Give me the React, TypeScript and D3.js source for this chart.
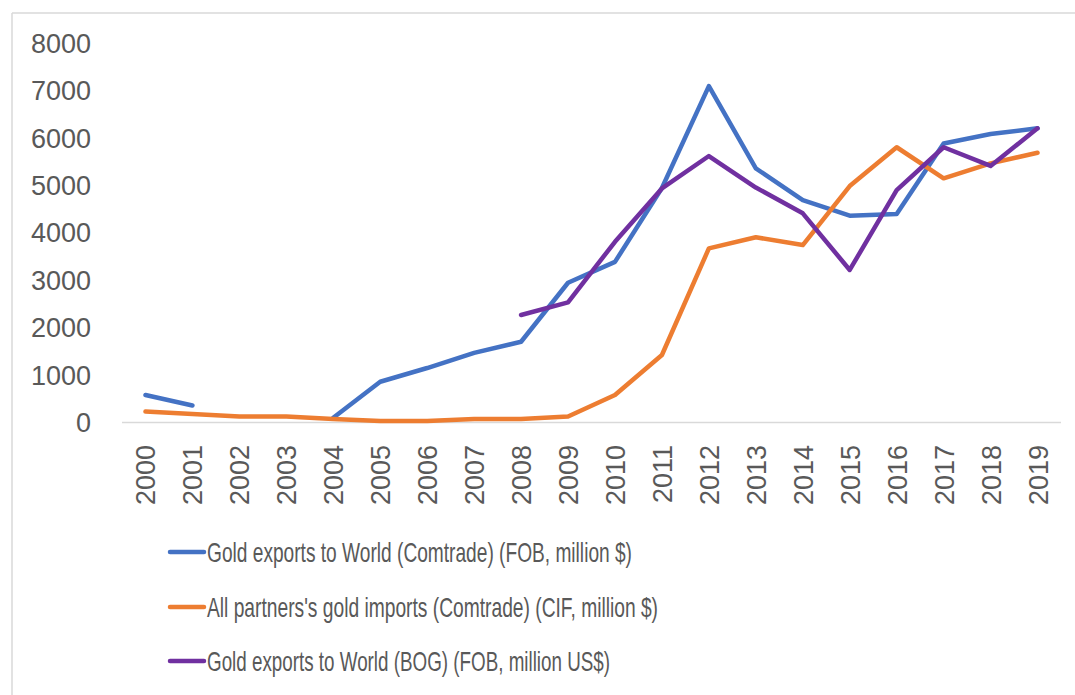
import React, { useEffect, useRef } from "react";
import * as d3 from "d3";

const years = ["2000","2001","2002","2003","2004","2005","2006","2007","2008","2009","2010","2011","2012","2013","2014","2015","2016","2017","2018","2019"];
const comtradeExports: (number | null)[] = [580, 360, null, null, 100, 860, 1150, 1470, 1705, 2950, 3390, 4950, 7100, 5365, 4695, 4365, 4400, 5890, 6090, 6210];
const partnerImports: (number | null)[] = [230, 180, 125, 125, 75, 30, 30, 75, 75, 125, 580, 1425, 3675, 3910, 3745, 4990, 5810, 5155, 5470, 5695];
const bogExports: (number | null)[] = [null, null, null, null, null, null, null, null, 2270, 2535, 3815, 4940, 5625, 4960, 4415, 3220, 4905, 5810, 5415, 6210];
const yTicks = [0, 1000, 2000, 3000, 4000, 5000, 6000, 7000, 8000];
const seriesNames = [
  "Gold exports to World (Comtrade) (FOB, million $)",
  "All partners's gold imports (Comtrade) (CIF, million $)",
  "Gold exports to World (BOG) (FOB, million US$)",
];
const seriesColors = ["#4472C4", "#ED7D31", "#7030A0"];

export default function App() {
  const ref = useRef<SVGSVGElement>(null);
  useEffect(() => {
    const svg = d3.select(ref.current);
    svg.selectAll("*").remove();
    const W = 1075, H = 695;
    const font = "'Liberation Sans', Arial, sans-serif";
    const textColor = "#595959";

    // chart frame (top and left visible)
    svg.append("line").attr("x1", 12).attr("x2", W).attr("y1", 13).attr("y2", 13).attr("stroke", "#d9d9d9").attr("stroke-width", 1.5);
    svg.append("line").attr("x1", 12).attr("x2", 12).attr("y1", 13).attr("y2", H).attr("stroke", "#d9d9d9").attr("stroke-width", 1.5);

    const x = d3.scaleBand<string>().domain(years).range([122, 1061]);
    const y = d3.scaleLinear().domain([0, 8000]).range([422.5, 43.5]);

    // y tick labels
    svg.append("g").selectAll("text").data(yTicks).join("text")
      .attr("x", 91).attr("y", (d) => y(d)).attr("dy", "0.35em")
      .attr("text-anchor", "end").attr("font-family", font).attr("font-size", 27)
      .attr("fill", textColor).text((d) => String(d));

    // x axis line
    svg.append("line").attr("x1", 122).attr("x2", 1061).attr("y1", y(0)).attr("y2", y(0))
      .attr("stroke", "#d9d9d9").attr("stroke-width", 1.5);

    // x tick labels rotated
    svg.append("g").selectAll("text").data(years).join("text")
      .attr("transform", (d) => `translate(${(x(d) as number) + x.bandwidth() / 2 + 10},445) rotate(-90)`)
      .attr("text-anchor", "end").attr("font-family", font).attr("font-size", 27)
      .attr("fill", textColor).text((d) => d);

    const allSeries = [comtradeExports, partnerImports, bogExports];
    const line = d3.line<number | null>()
      .defined((d) => d !== null)
      .x((_, i) => (x(years[i]) as number) + x.bandwidth() / 2)
      .y((d) => y(d as number));

    allSeries.forEach((s, k) => {
      svg.append("path").datum(s).attr("d", line as any).attr("fill", "none")
        .attr("stroke", seriesColors[k]).attr("stroke-width", 4.5)
        .attr("stroke-linejoin", "round").attr("stroke-linecap", "round");
    });

    // legend
    const legY = [552, 607, 661];
    const legW = [425, 451, 403];
    seriesNames.forEach((name, k) => {
      svg.append("line").attr("x1", 170).attr("x2", 204).attr("y1", legY[k]).attr("y2", legY[k])
        .attr("stroke", seriesColors[k]).attr("stroke-width", 4.5).attr("stroke-linecap", "round");
      svg.append("text").attr("x", 207).attr("y", legY[k]).attr("dy", "0.35em")
        .attr("font-family", font).attr("font-size", 28).attr("fill", textColor)
        .attr("textLength", legW[k]).attr("lengthAdjust", "spacingAndGlyphs").text(name);
    });
  }, []);
  return (
    <svg ref={ref} width={1075} height={695} style={{ position: "absolute", left: 0, top: 0, background: "#fff" }} />
  );
}
